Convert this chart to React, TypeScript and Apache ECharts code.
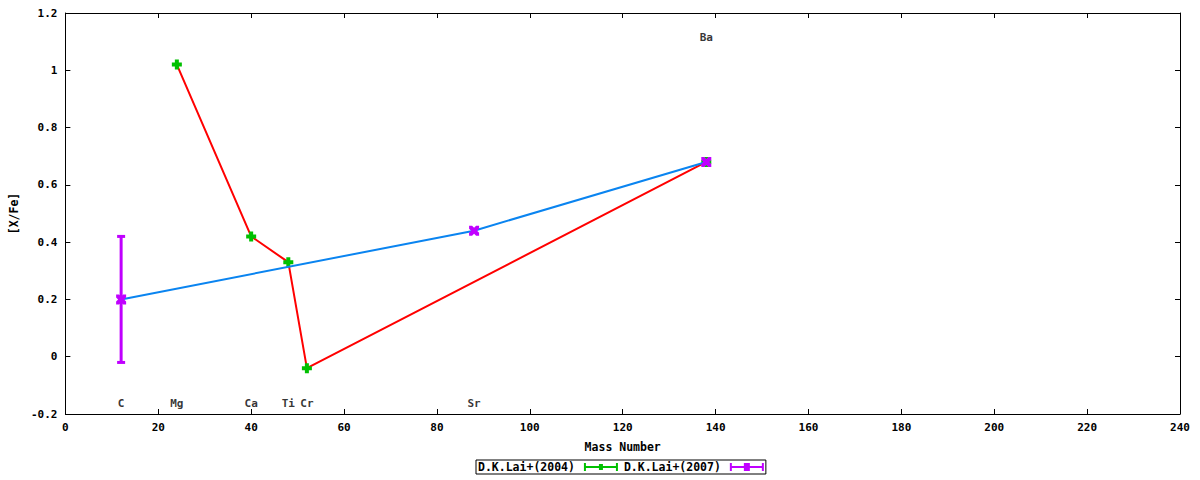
import React, { useEffect, useRef } from "react";
import * as echarts from "echarts";

// D.K.Lai+(2004)
const lai2004Mass = [24, 40, 48, 52, 138];
const lai2004Value = [1.02, 0.42, 0.33, -0.04, 0.68];

// D.K.Lai+(2007)
const lai2007Mass = [12, 88, 138];
const lai2007Value = [0.2, 0.44, 0.68];
const lai2007Low = [-0.02, 0.44, 0.68];
const lai2007High = [0.42, 0.44, 0.68];

// element labels
const elementNames = ["C", "Mg", "Ca", "Ti", "Cr", "Sr", "Ba"];
const elementMass = [12, 24, 40, 48, 52, 88, 138];
const elementLabelY = [-0.163, -0.163, -0.163, -0.163, -0.163, -0.163, 1.115];

const FONT = "DejaVu Sans Mono";
const GREEN = "#00c000";
const PURPLE = "#c000ff";
const RED = "#ff0000";
const BLUE = "#0a84f0";

const plusPath = "path://M3,0H7V3H10V7H7V10H3V7H0V3H3Z";
const xPath = "path://M0,0H3L5,2L7,0H10V3L8,5L10,7V10H7L5,8L3,10H0V7L2,5L0,3Z";
const legendGreen = "path://M0,0H2V3H15V1H19V3H32V0H34V8H32V5H19V7H15V5H2V8H0Z";
const legendPurple = "path://M0,0H2V3H14V0H20V3H32V0H34V8H32V5H20V8H14V5H2V8H0Z";

export default function App() {
  const ref = useRef<HTMLDivElement>(null);
  useEffect(() => {
    if (!ref.current) return;
    const chart = echarts.init(ref.current, undefined, { renderer: "svg" });
    const textStyle = { fontFamily: FONT, fontWeight: "bold" as const, fontSize: 11, color: "#000" };
    const axisCommon = {
      axisLine: { show: true, onZero: false, lineStyle: { color: "#000", width: 1 } },
      axisTick: { show: true, inside: true, length: 5, lineStyle: { color: "#000" } },
      splitLine: { show: false },
    };
    chart.setOption({
      animation: false,
      backgroundColor: "#fff",
      textStyle,
      grid: { left: 61, right: 20, top: 13, bottom: 66, containLabel: false },
      legend: {
        show: true,
        top: 460,
        left: 476,
        align: "right",
        orient: "horizontal",
        borderColor: "#000",
        borderWidth: 1,
        borderRadius: 0,
        padding: [1, 2],
        itemGap: 6,
        itemWidth: 34,
        itemHeight: 8,
        textStyle: { ...textStyle, fontSize: 11.5, padding: [0, 4, 0, 0] },
        data: [
          { name: "D.K.Lai+(2004)", icon: legendGreen, itemStyle: { color: GREEN } },
          { name: "D.K.Lai+(2007)", icon: legendPurple, itemStyle: { color: PURPLE } },
        ],
      },
      xAxis: [
        {
          type: "value",
          min: 0,
          max: 240,
          interval: 20,
          name: "Mass Number",
          nameLocation: "middle",
          nameGap: 27,
          nameTextStyle: { ...textStyle, fontSize: 11.5 },
          axisLabel: { ...textStyle, margin: 8 },
          ...axisCommon,
        },
        {
          type: "value",
          position: "top",
          min: 0,
          max: 240,
          interval: 20,
          axisLabel: { show: false },
          ...axisCommon,
        },
      ],
      yAxis: [
        {
          type: "value",
          min: -0.2,
          max: 1.2,
          interval: 0.2,
          name: "[X/Fe]",
          nameLocation: "middle",
          nameGap: 44,
          nameRotate: 90,
          nameTextStyle: { ...textStyle, fontSize: 11.5 },
          axisLabel: {
            ...textStyle,
            margin: 8,
            formatter: (v: number) => String(Math.round(v * 10) / 10),
          },
          ...axisCommon,
        },
        {
          type: "value",
          position: "right",
          min: -0.2,
          max: 1.2,
          interval: 0.2,
          axisLabel: { show: false },
          ...axisCommon,
        },
      ],
      series: [
        {
          name: "D.K.Lai+(2004)",
          type: "line",
          data: lai2004Mass.map((m, i) => [m, lai2004Value[i]]),
          lineStyle: { color: RED, width: 2 },
          itemStyle: { color: GREEN },
          symbol: plusPath,
          symbolSize: 10,
          z: 3,
        },
        {
          name: "D.K.Lai+(2007)",
          type: "line",
          data: lai2007Mass.map((m, i) => [m, lai2007Value[i]]),
          lineStyle: { color: BLUE, width: 2 },
          itemStyle: { color: PURPLE },
          symbol: xPath,
          symbolSize: 10,
          z: 4,
        },
        {
          name: "D.K.Lai+(2007)",
          type: "custom",
          data: lai2007Mass.map((m, i) => [m, lai2007Low[i], lai2007High[i]]),
          z: 5,
          renderItem: (params: any, api: any) => {
            const x = api.value(0);
            const lo = api.coord([x, api.value(1)]);
            const hi = api.coord([x, api.value(2)]);
            if (Math.abs(lo[1] - hi[1]) < 1) return null;
            const style = { stroke: PURPLE, lineWidth: 3 };
            return {
              type: "group",
              children: [
                { type: "line", shape: { x1: lo[0], y1: lo[1], x2: hi[0], y2: hi[1] }, style },
                { type: "line", shape: { x1: lo[0] - 4, y1: lo[1], x2: lo[0] + 4, y2: lo[1] }, style },
                { type: "line", shape: { x1: hi[0] - 4, y1: hi[1], x2: hi[0] + 4, y2: hi[1] }, style },
              ],
            };
          },
        },
        {
          name: "labels",
          type: "scatter",
          symbolSize: 0,
          silent: true,
          data: elementNames.map((n, i) => ({ value: [elementMass[i], elementLabelY[i]], name: n })),
          label: {
            show: true,
            position: "inside",
            formatter: (p: any) => p.name,
            ...textStyle,
          },
          z: 6,
        },
      ],
    });
    return () => chart.dispose();
  }, []);
  return (
    <div
      ref={ref}
      style={{ position: "fixed", left: 0, top: 0, width: 1200, height: 480 }}
    />
  );
}
